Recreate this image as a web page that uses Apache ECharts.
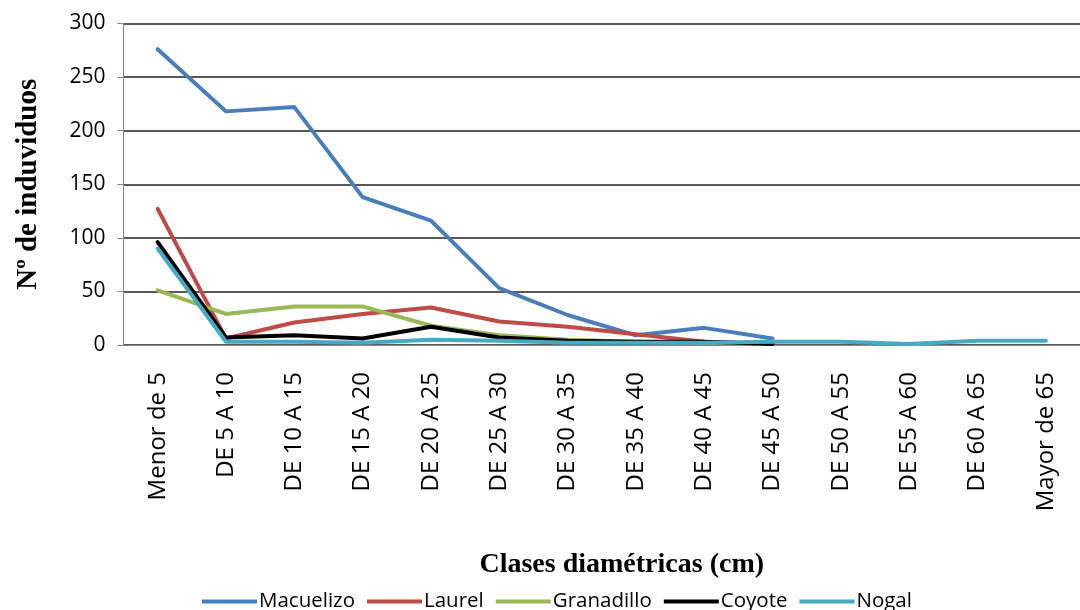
<!DOCTYPE html>
<html>
<head>
<meta charset="utf-8">
<script src="https://cdn.jsdelivr.net/npm/echarts@6/dist/echarts.min.js"></script>
<style>
html,body{margin:0;padding:0;background:#fff;}
#chart{width:1080px;height:610px;}
</style>
</head>
<body>
<div id="chart"></div>
<script>
const categories = ["Menor de 5","DE 5 A 10","DE 10 A 15","DE 15 A 20","DE 20 A 25","DE 25 A 30","DE 30 A 35","DE 35 A 40","DE 40 A 45","DE 45 A 50","DE 50 A 55","DE 55 A 60","DE 60 A 65","Mayor de 65"];
const macuelizo = [276,218,222,138,116,53,28,9,16,6,null,null,null,null];
const laurel = [127,6,21,29,35,22,17,10,3,1,null,null,null,null];
const granadillo = [51,29,36,36,18,9,5,3,2,1,null,null,null,null];
const coyote = [96,7,9,6,17,7,4,3,3,1,null,null,null,null];
const nogal = [90,3,3,2,5,4,2,2,2,3,3,1,4,4];
const yTicks = {min:0, max:300, interval:50};

const seriesNames = ["Macuelizo","Laurel","Granadillo","Coyote","Nogal"];
const seriesData = [macuelizo, laurel, granadillo, coyote, nogal];
const colors = ["#4a7ebb","#be4b48","#98b954","#000000","#46aac5"];

const chart = echarts.init(document.getElementById('chart'), null, {renderer:'canvas'});
chart.setOption({
  animation:false,
  backgroundColor:'#fff',
  color: colors,
  grid:{left:123.5, right:-8, top:23.5, bottom:265, containLabel:false},
  legend:{
    data: seriesNames,
    left:197, top:586,
    icon:'rect', itemWidth:55, itemHeight:4, itemGap:12,
    textStyle:{fontFamily:'Open Sans', fontSize:20.5, color:'#000', padding:[0,0,0,-3]}
  },
  xAxis:{
    type:'category', data:categories, boundaryGap:true,
    axisLine:{lineStyle:{color:'#868686', width:1}},
    axisTick:{show:false},
    axisLabel:{rotate:90, interval:0, margin:27, fontFamily:'Open Sans', fontSize:24, color:'#000'},
    name:'Clases diamétricas (cm)', nameLocation:'middle', nameGap:206,
    nameTextStyle:{fontFamily:'Liberation Serif', fontWeight:'bold', fontSize:28, color:'#000', padding:[0,0,0,40]}
  },
  yAxis:{
    type:'value', min:yTicks.min, max:yTicks.max, interval:yTicks.interval,
    axisLine:{show:true, lineStyle:{color:'#868686', width:1}},
    axisTick:{show:true, length:6, lineStyle:{color:'#868686'}},
    splitLine:{lineStyle:{color:'#222', width:1.5}},
    axisLabel:{fontFamily:'Open Sans', fontSize:21, color:'#000', margin:18},
    name:'Nº de induviduos', nameLocation:'middle', nameGap:80, nameRotate:90,
    nameTextStyle:{fontFamily:'Liberation Serif', fontWeight:'bold', fontSize:29, color:'#000'}
  },
  series: seriesNames.map((n,i)=>({
    name:n, type:'line', data:seriesData[i], symbol:'none', showSymbol:false,
    lineStyle:{width:4, color:colors[i], join:'round', cap:'round'},
    itemStyle:{color:colors[i]}
  }))
});
</script>
</body>
</html>
